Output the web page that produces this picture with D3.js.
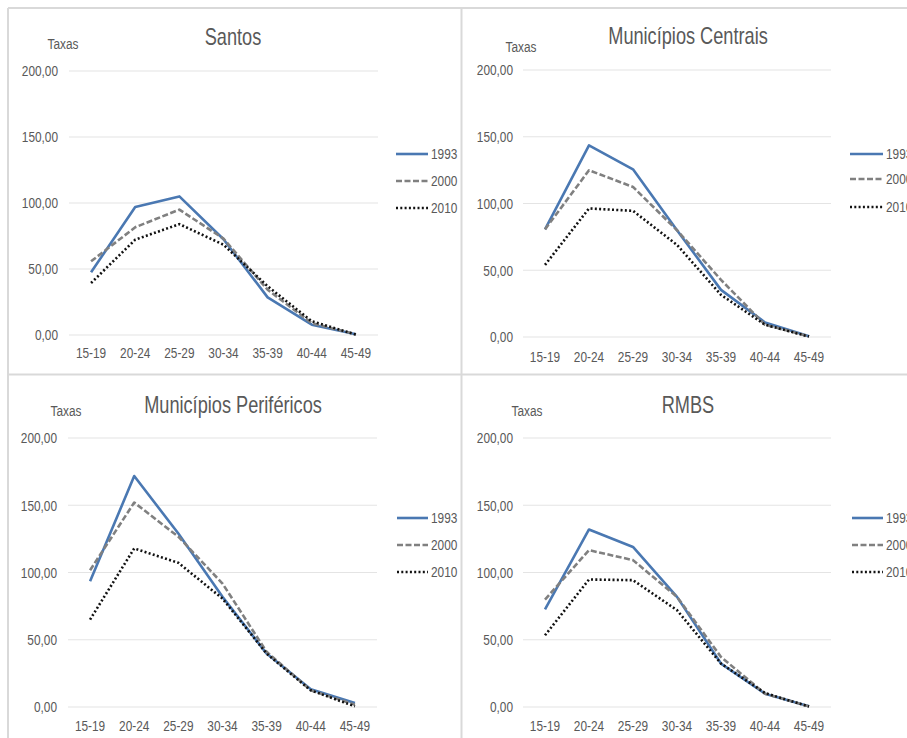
<!DOCTYPE html>
<html><head><meta charset="utf-8">
<script src="https://cdn.jsdelivr.net/npm/d3@7"></script>
<style>
html,body{margin:0;padding:0;background:#fff;}
svg text{font-family:"Liberation Sans",Arial,sans-serif;fill:#595959;}
</style></head>
<body><svg id="c" width="907" height="738"></svg>
<script>
const ageGroups = ["15-19","20-24","25-29","30-34","35-39","40-44","45-49"];
const years = ["1993","2000","2010"];
const yTicks = [0,50,100,150,200];
const panelTitles = ["Santos","Municípios Centrais","Municípios Periféricos","RMBS"];
const santos1993 = [47.5,97,105,72.5,28.5,7.8,0.5];
const santos2000 = [55.8,81.6,95,73,34.3,9,0.5];
const santos2010 = [39.4,72.2,84,68.4,36.9,10.4,0.3];
const centrais1993 = [80.6,143.5,125.6,80,35.3,10.9,0.5];
const centrais2000 = [80.6,124.9,112.4,80,42.8,9.2,0.5];
const centrais2010 = [54,96.3,94.5,69,31.6,9.2,0.3];
const perifericos1993 = [93.5,171.7,129,81.9,39.7,13.2,3];
const perifericos2000 = [101.7,152,126.6,91.8,41,12.4,1.7];
const perifericos2010 = [65,117.9,107.2,80.6,39.7,12.4,0.5];
const rmbs1993 = [72.5,132,119,81.9,32.3,9.9,0.5];
const rmbs2000 = [79.9,116.6,109.2,81.9,37.2,9.9,0.5];
const rmbs2010 = [53.3,94.8,94.3,72,32.3,10.4,0.3];

const panelData = [
  [santos1993,santos2000,santos2010],
  [centrais1993,centrais2000,centrais2010],
  [perifericos1993,perifericos2000,perifericos2010],
  [rmbs1993,rmbs2000,rmbs2010]
];

const svg = d3.select("#c");
const SX = 0.79; // horizontal condensing to mimic a narrow font

// panel borders
const borderColor = "#d9d9d9";
[[8,8,907,8],[8,8,8,738],[461.5,8,461.5,738],[8,374.5,907,374.5]].forEach(l=>{
  svg.append("line").attr("x1",l[0]).attr("y1",l[1]).attr("x2",l[2]).attr("y2",l[3])
    .attr("stroke",borderColor).attr("stroke-width",2);
});

const layouts = [
  {x0:69,x1:378,y0:335,y1:71,tx:233,ty:37,ax:63,ay:44,ylx:58,xly:353,lx0:396,lx1:428,ly:[154,181,208]},
  {x0:523,x1:831,y0:337,y1:70,tx:688,ty:36,ax:521,ay:47,ylx:513,xly:357,lx0:850,lx1:883,ly:[154,179,207]},
  {x0:68,x1:377,y0:707,y1:438,tx:233,ty:405,ax:66,ay:411,ylx:57,xly:726,lx0:397,lx1:428,ly:[518,545,572]},
  {x0:523,x1:831,y0:707,y1:438,tx:688,ty:405,ax:527,ay:411,ylx:513,xly:726,lx0:852,lx1:883,ly:[518,545,572]}
];

const styles = [
  {stroke:"#4a78b2",dash:null,width:2.6,cap:"butt"},
  {stroke:"#808080",dash:"6,2.5",width:2.6,cap:"butt"},
  {stroke:"#111111",dash:"2,2.3",width:2.6,cap:"butt"}
];

const fmt = v => d3.format(".2f")(v).replace(".",",");

function addText(g, x, y, txt, size, anchor){
  return g.append("text")
    .attr("transform",`translate(${x},${y}) scale(${SX},1)`)
    .attr("text-anchor",anchor).attr("dominant-baseline","central")
    .attr("font-size",size).text(txt);
}

layouts.forEach((L,pi)=>{
  const g = svg.append("g");
  const x = d3.scaleBand().domain(ageGroups).range([L.x0,L.x1]);
  const y = d3.scaleLinear().domain([0,200]).range([L.y0,L.y1]);

  // gridlines
  g.selectAll(".grid").data(yTicks).enter().append("line")
    .attr("x1",L.x0).attr("x2",L.x1)
    .attr("y1",d=>y(d)).attr("y2",d=>y(d))
    .attr("stroke","#e4e4e4").attr("stroke-width",1.2);

  // y axis labels
  const ya = g.append("g").attr("transform",`translate(${L.ylx},0)`)
    .call(d3.axisLeft(y).tickValues(yTicks).tickSize(0).tickPadding(0).tickFormat(fmt));
  ya.select(".domain").remove();
  ya.selectAll("text").attr("font-size",15).attr("fill","#595959")
    .attr("transform",`scale(${SX},1)`)
    .style("font-family",'"Liberation Sans",Arial,sans-serif');

  // x axis labels
  const xa = g.append("g").attr("transform",`translate(0,${L.xly})`)
    .call(d3.axisBottom(x).tickSize(0).tickPadding(0));
  xa.select(".domain").remove();
  xa.selectAll("text").attr("font-size",15).attr("fill","#595959")
    .attr("y",0).attr("dy",null).attr("dominant-baseline","central")
    .attr("transform",`scale(${SX},1)`)
    .style("font-family",'"Liberation Sans",Arial,sans-serif');

  // title and axis name
  addText(g, L.tx, L.ty, panelTitles[pi], 23, "middle");
  addText(g, L.ax, L.ay, "Taxas", 15, "middle");

  // lines
  const line = d3.line().x((d,i)=>x(ageGroups[i])+x.bandwidth()/2).y(d=>y(d));
  panelData[pi].forEach((vals,si)=>{
    const s = styles[si];
    g.append("path").datum(vals).attr("d",line).attr("fill","none")
      .attr("stroke",s.stroke).attr("stroke-width",s.width)
      .attr("stroke-dasharray",s.dash).attr("stroke-linecap",s.cap)
      .attr("stroke-linejoin","round");
  });

  // legend
  years.forEach((yr,si)=>{
    const s = styles[si];
    g.append("line").attr("x1",L.lx0).attr("x2",L.lx1).attr("y1",L.ly[si]).attr("y2",L.ly[si])
      .attr("stroke",s.stroke).attr("stroke-width",s.width)
      .attr("stroke-dasharray",s.dash).attr("stroke-linecap",s.cap);
    addText(g, L.lx1+3, L.ly[si], yr, 15, "start");
  });
});
</script></body></html>
